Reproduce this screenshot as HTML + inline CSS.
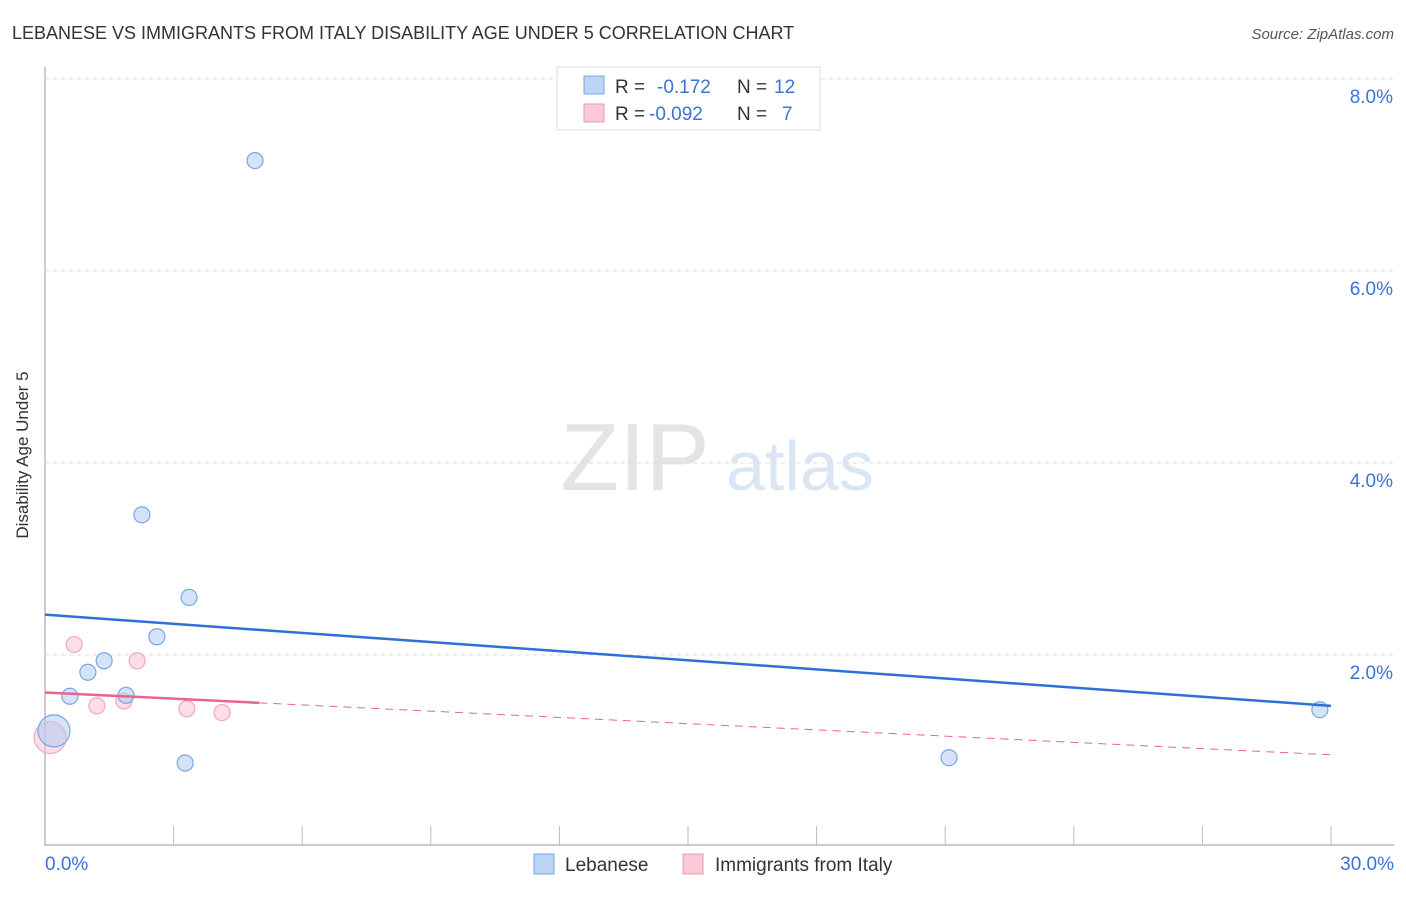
<!DOCTYPE html>
<html><head><meta charset="utf-8"><style>
body{margin:0;background:#fff;font-family:"Liberation Sans",sans-serif;}
svg text{font-family:"Liberation Sans",sans-serif;}
</style></head><body>
<svg width="1406" height="892" id="c">
<text x="12" y="39" font-size="18" fill="#333">LEBANESE VS IMMIGRANTS FROM ITALY DISABILITY AGE UNDER 5 CORRELATION CHART</text>
<text x="1394" y="39" font-size="15" fill="#555" text-anchor="end" font-style="italic">Source: ZipAtlas.com</text>
<text x="28" y="455" font-size="17" fill="#333" text-anchor="middle" transform="rotate(-90 28 455)">Disability Age Under 5</text>
<text x="635" y="490" font-size="96" fill="#e4e4e4" text-anchor="middle" font-family="Liberation Serif">ZIP</text>
<text x="800" y="490" font-size="70" fill="#dbe6f5" text-anchor="middle">atlas</text>
<g id="grid"></g><g id="marks"></g>
<g>
<rect x="557" y="67" width="263" height="63" fill="#fff" stroke="#ddd"/>
<rect x="584" y="76" width="20" height="18" fill="#bcd4f6" stroke="#7aa6e6"/>
<text x="615" y="93" font-size="19" fill="#333">R =</text><text x="657" y="93" font-size="19" fill="#3a72d8">-0.172</text>
<text x="737" y="93" font-size="19" fill="#333">N =</text><text x="774" y="93" font-size="19" fill="#3a72d8">12</text>
<rect x="584" y="104" width="20" height="18" fill="#f9c9d6" stroke="#ec9ab2"/>
<text x="615" y="120" font-size="19" fill="#333">R =</text><text x="649" y="120" font-size="19" fill="#3a72d8">-0.092</text>
<text x="737" y="120" font-size="19" fill="#333">N =</text><text x="782" y="120" font-size="19" fill="#3a72d8">7</text>
</g>
<g>
<rect x="534" y="854" width="20" height="20" fill="#bcd4f6" stroke="#7aa6e6"/>
<text x="565" y="871" font-size="19" fill="#333">Lebanese</text>
<rect x="683" y="854" width="20" height="20" fill="#f9c9d6" stroke="#ec9ab2"/>
<text x="715" y="871" font-size="19" fill="#333">Immigrants from Italy</text>
</g>
</svg>
<script>
const yTicks=[2,4,6,8];
const xTickLabels=["0.0%","30.0%"];
const blueX=[0.21,0.58,1.00,1.38,1.89,2.26,2.61,3.36,3.27,4.90,21.09,29.74];
const blueY=[1.21,1.57,1.82,1.94,1.58,3.46,2.19,2.60,0.875,7.15,0.93,1.43];
const blueR=[16,8,8,8,8,8,8,8,8,8,8,8];
const pinkX=[0.12,0.68,1.21,1.84,2.15,3.31,4.13];
const pinkY=[1.14,2.11,1.47,1.52,1.94,1.44,1.40];
const pinkR=[16,8,8,8,8,8,8];
const blueTrend=[2.42,1.47];
const pinkTrend=[1.61,0.96];
const pinkSolidEnd=5;
const X=v=>45+v*1286/30, Y=v=>847-v*96;
const NS="http://www.w3.org/2000/svg";
const grid=document.getElementById('grid'),marks=document.getElementById('marks');
function mk(tag,attrs,parent){const e=document.createElementNS(NS,tag);for(const k in attrs)e.setAttribute(k,attrs[k]);parent.appendChild(e);return e;}
let ax=mk('line',{x1:45,y1:67,x2:45,y2:846,stroke:'#bbb','stroke-width':1.5},grid);


let bx=mk('line',{x1:45,y1:845,x2:1394,y2:845,stroke:'#bbb','stroke-width':1.5},grid);


yTicks.forEach(t=>{
 let l=mk('line',{x1:45,x2:1394,y1:Y(t),y2:Y(t),stroke:'#ddd','stroke-dasharray':'4,4'},grid);
 
 
 let tx=mk('text',{x:1393,y:Y(t)+24,'font-size':19,fill:'#3a72d8','text-anchor':'end'},grid);
 tx.textContent=t.toFixed(1)+'%';
 
 
});
for(let i=1;i<=10;i++){
 let l=mk('line',{x1:X(i*3),x2:X(i*3),y1:826,y2:845,stroke:'#bbb'},grid);
 
 
}
let t0=mk('text',{x:45,y:870,'font-size':19,fill:'#3a72d8'},grid);t0.textContent=xTickLabels[0];


let t1=mk('text',{x:1394,y:870,'font-size':19,fill:'#3a72d8','text-anchor':'end'},grid);t1.textContent=xTickLabels[1];


pinkX.forEach((v,i)=>{
 let c=mk('circle',{cx:X(v),cy:Y(pinkY[i]),r:pinkR[i],fill:'rgba(246,182,200,0.45)',stroke:'#f0a8bd','stroke-width':1.2},marks);
 
 
});
blueX.forEach((v,i)=>{
 let c=mk('circle',{cx:X(v),cy:Y(blueY[i]),r:blueR[i],fill:'rgba(176,204,242,0.55)',stroke:'#7aa6e6','stroke-width':1.2},marks);
 
 
});
let bl=mk('line',{x1:X(0),y1:Y(blueTrend[0]),x2:X(30),y2:Y(blueTrend[1]),stroke:'#2f6fd6','stroke-width':2.5},marks);


const pAt=v=>pinkTrend[0]+(pinkTrend[1]-pinkTrend[0])*v/30;
let pl=mk('line',{x1:X(0),y1:Y(pinkTrend[0]),x2:X(pinkSolidEnd),y2:Y(pAt(pinkSolidEnd)),stroke:'#e8648e','stroke-width':2.5},marks);


let pd=mk('line',{x1:X(pinkSolidEnd),y1:Y(pAt(pinkSolidEnd)),x2:X(30),y2:Y(pinkTrend[1]),stroke:'#e8648e','stroke-width':1,'stroke-dasharray':'8,6'},marks);


</script>
</body></html>
